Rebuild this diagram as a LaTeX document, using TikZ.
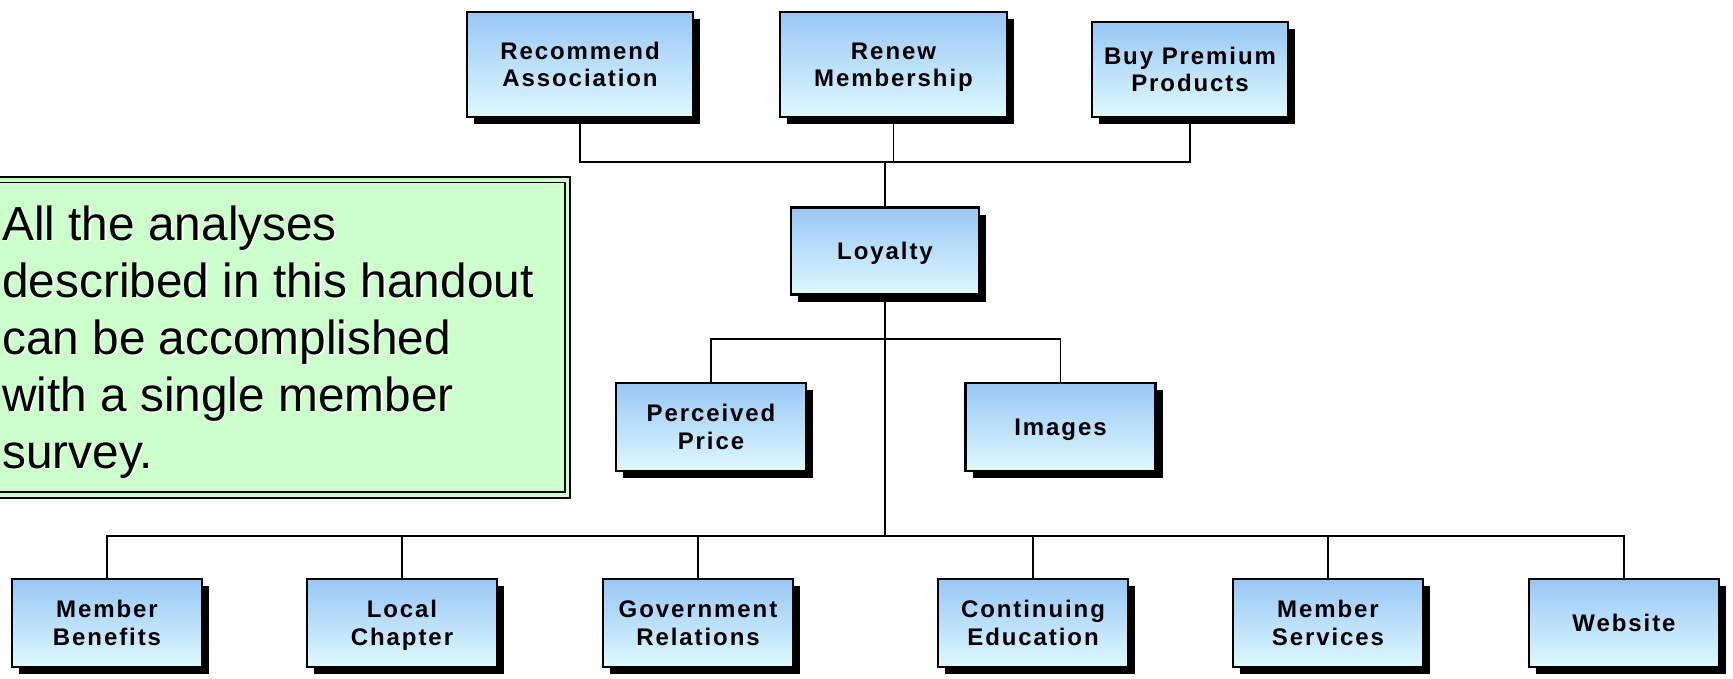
\documentclass[tikz,border=0pt]{standalone}
\usepackage{fontspec}
\setmainfont{Liberation Sans}
\newfontfamily\boxfont[LetterSpace=8]{Liberation Sans}
\usetikzlibrary{shadows}
\definecolor{boxtop}{RGB}{152,199,245}
\definecolor{boxbot}{RGB}{222,249,255}
\definecolor{notefill}{RGB}{204,255,204}
\tikzset{
  tbox/.style={draw=black, line width=2.6pt, top color=boxtop, bottom color=boxbot,
    minimum width=#1, inner sep=0pt, align=center,
    font=\boxfont\bfseries\fontsize{24}{27.5}\selectfont,
    text height=17.2pt, text depth=0pt,
    drop shadow={shadow xshift=7pt, shadow yshift=-7pt, fill=black, opacity=1}},
  tbox/.default=190pt,
  % two-line labels: centre the block of capitals
  twoline/.style={text height=44.7pt, text depth=0pt},
  conn/.style={draw=black, line width=1.4pt},
  notetext/.style={anchor=base west, align=left, inner sep=0pt,
    font=\fontsize{47.8}{57}\selectfont}
}
\begin{document}
\begin{tikzpicture}[x=1pt,y=-1pt]
\useasboundingbox (0,0) rectangle (1733,678);

% note panel with double frame
\draw[line width=2pt, fill=notefill] (-10,177) rectangle (570,497.5);
\draw[line width=1.4pt] (-10,182.5) rectangle (565,492);
\node[notetext, text=white] at (3.3,469.5) {All the analyses\\described in this handout\\can be accomplished\\with a single member\\survey.};
\node[notetext] (note) at (2,468) {All the analyses\\described in this handout\\can be accomplished\\with a single member\\survey.};

% outcome boxes
\node[tbox=226pt, twoline, minimum height=105pt] (rec) at (580,64.5) {Recommend\\Association};
\node[tbox=227pt, twoline, minimum height=105pt] (ren) at (893.5,64.5) {Renew\\Membership};
\node[tbox=196pt, twoline, minimum height=95pt] (buy) at (1190,69.5) {Buy Premium\\Products};

% central construct
\node[tbox=188pt, minimum height=87pt] (loy) at (885,251) {Loyalty};

% perception boxes
\node[tbox=190pt, twoline, minimum height=88pt] (pp) at (711,427) {Perceived\\Price};
\node[tbox=190pt, minimum height=88pt] (img) at (1060.5,427) {Images};

% driver boxes
\tikzset{drv/.style={tbox, minimum height=88pt}}
\node[drv, twoline] (b1) at (107,623) {Member\\Benefits};
\node[drv, twoline] (b2) at (402,623) {Local\\Chapter};
\node[drv, twoline] (b3) at (698,623) {Government\\Relations};
\node[drv, twoline] (b4) at (1033,623) {Continuing\\Education};
\node[drv, twoline] (b5) at (1328,623) {Member\\Services};
\node[drv] (b6) at (1624,623) {Website};

% bus junctions
\coordinate (tb) at (885,162);
\coordinate (mb) at (885,339);
\coordinate (bb) at (885,536);

% connectors
\draw[conn] (rec.south) -- (rec.south |- tb) -- (buy.south |- tb) -- (buy.south);
\draw[conn] (ren.south) -- (ren.south |- tb);
\draw[conn] (tb) -- (loy.north);
\draw[conn] (pp.north) -- (pp.north |- mb) -- (img.north |- mb) -- (img.north);
\draw[conn] (loy.south) -- (bb);
\draw[conn] (b1.north) -- (b1.north |- bb) -- (b6.north |- bb) -- (b6.north);
\draw[conn] (b2.north) -- (b2.north |- bb);
\draw[conn] (b3.north) -- (b3.north |- bb);
\draw[conn] (b4.north) -- (b4.north |- bb);
\draw[conn] (b5.north) -- (b5.north |- bb);
\end{tikzpicture}
\end{document}
